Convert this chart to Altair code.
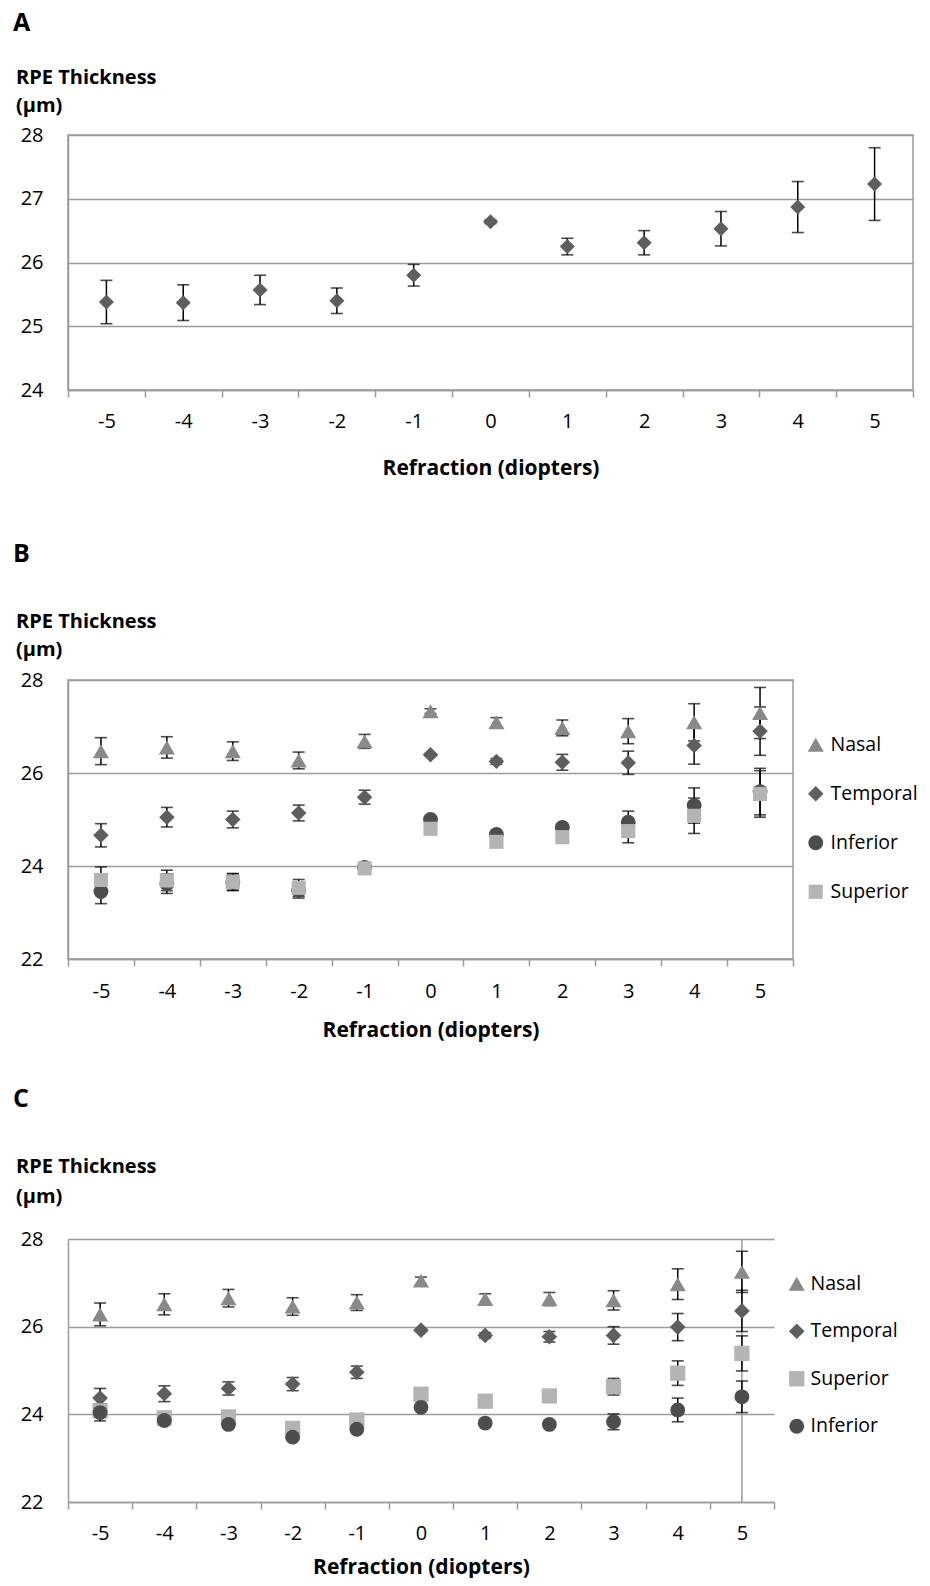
import altair as alt
import pandas as pd

FONT = "Open Sans"
GRID = "#9b9b9b"

X_LABELS = ["-5", "-4", "-3", "-2", "-1", "0", "1", "2", "3", "4", "5"]

# Panel A (all regions)
A_MEAN = [25.38, 25.37, 25.57, 25.40, 25.80, 26.64, 26.25, 26.31, 26.53, 26.87, 27.23]
A_ERR = [0.34, 0.28, 0.23, 0.20, 0.17, 0.03, 0.13, 0.19, 0.27, 0.40, 0.57]

# Panel B
B_NASAL = [26.47, 26.55, 26.47, 26.27, 26.68, 27.33, 27.09, 26.97, 26.90, 27.09, 27.29]
B_NASAL_ERR = [0.29, 0.23, 0.20, 0.18, 0.15, 0.05, 0.10, 0.17, 0.27, 0.40, 0.55]
B_TEMPORAL = [24.66, 25.05, 25.00, 25.14, 25.48, 26.39, 26.25, 26.23, 26.22, 26.59, 26.90]
B_TEMPORAL_ERR = [0.25, 0.21, 0.18, 0.17, 0.15, 0.03, 0.06, 0.17, 0.25, 0.40, 0.52]
B_INFERIOR = [23.45, 23.62, 23.65, 23.48, 23.97, 25.00, 24.68, 24.83, 24.94, 25.30, 25.60]
B_INFERIOR_ERR = [0.26, 0.21, 0.18, 0.17, 0.08, 0.04, 0.05, 0.08, 0.24, 0.38, 0.50]
B_SUPERIOR = [23.70, 23.69, 23.66, 23.53, 23.95, 24.80, 24.52, 24.62, 24.75, 25.08, 25.55]
B_SUPERIOR_ERR = [0.28, 0.22, 0.18, 0.18, 0.08, 0.04, 0.05, 0.06, 0.25, 0.38, 0.50]

# Panel C
C_NASAL = [26.28, 26.51, 26.65, 26.46, 26.55, 27.05, 26.63, 26.63, 26.60, 26.97, 27.25]
C_NASAL_ERR = [0.26, 0.24, 0.20, 0.20, 0.18, 0.08, 0.12, 0.15, 0.22, 0.35, 0.47]
C_TEMPORAL = [24.37, 24.47, 24.59, 24.69, 24.96, 25.92, 25.80, 25.77, 25.80, 25.99, 26.36]
C_TEMPORAL_ERR = [0.22, 0.18, 0.15, 0.15, 0.14, 0.03, 0.06, 0.12, 0.20, 0.31, 0.47]
C_SUPERIOR = [24.08, 23.92, 23.94, 23.68, 23.87, 24.46, 24.30, 24.42, 24.63, 24.94, 25.39]
C_SUPERIOR_ERR = [0.15, 0.10, 0.08, 0.06, 0.06, 0.04, 0.04, 0.04, 0.19, 0.28, 0.40]
C_INFERIOR = [24.04, 23.86, 23.77, 23.48, 23.66, 24.16, 23.80, 23.77, 23.83, 24.10, 24.40]
C_INFERIOR_ERR = [0.19, 0.10, 0.08, 0.05, 0.05, 0.04, 0.04, 0.08, 0.18, 0.27, 0.36]

COLORS = {"Nasal": "#898989", "Temporal": "#5e5e5e", "Inferior": "#4d4d4d", "Superior": "#b4b4b4"}
SHAPES = {"Nasal": "triangle-up", "Temporal": "diamond", "Inferior": "circle", "Superior": "square"}


def make_df(series):
    rows = []
    for k, (name, means, errs) in enumerate(series):
        for xi, m, e in zip(X_LABELS, means, errs):
            rows.append(dict(x=xi, series=name, k=k, mean=m,
                             lo=round(m - e, 3), hi=round(m + e, 3)))
    return pd.DataFrame(rows)


def text_layer(s, x, y, size, bold=True):
    return alt.Chart(pd.DataFrame({"t": [s]})).mark_text(
        align="left", baseline="alphabetic", font=FONT, fontSize=size,
        fontWeight="bold" if bold else "normal", color="black"
    ).encode(text="t:N", x=alt.value(x), y=alt.value(y))


def spacer(top, bottom):
    # invisible block that fixes the vertical extent of a panel
    return alt.Chart(pd.DataFrame({"t": [0]})).mark_rect(opacity=0).encode(
        x=alt.value(0), x2=alt.value(1), y=alt.value(top), y2=alt.value(bottom))


def panel(df, letter, w, h, ydom, yvals, lx, ly_letter, ly_rpe, ly_um,
          label_pad, title_pad, extent, order=None, sizes=None, legend_xy=None,
          row_pad=29, label_offset=7, frame=True, vline=False, single=None):
    xscale = alt.Scale(type="band", domain=X_LABELS, paddingInner=0, paddingOuter=0)
    xaxis = alt.Axis(title="Refraction (diopters)", labelAngle=0, tickBand="extent",
                     tickSize=7, tickColor=GRID, tickWidth=1.5,
                     domainColor=GRID, domainWidth=1.5, grid=False,
                     labelFont=FONT, labelFontSize=20, labelColor="black",
                     labelPadding=label_pad, titleFont=FONT, titleFontSize=21,
                     titleFontWeight="bold", titleColor="black", titlePadding=title_pad)
    yscale = alt.Scale(domain=ydom, nice=False, zero=False)
    yaxis = alt.Axis(title=None, values=yvals, ticks=False, domain=True,
                     domainColor=GRID, domainWidth=1.5, grid=True, gridColor=GRID,
                     gridWidth=1.5, labelFont=FONT, labelFontSize=20,
                     labelColor="black", labelPadding=25, labelFlush=False,
                     labelOverlap=False)
    X = alt.X("x:O", scale=xscale, axis=xaxis)
    base = alt.Chart(df)
    err = base.mark_rule(color="black", strokeWidth=1.5).encode(
        x=X, y=alt.Y("lo:Q", scale=yscale, axis=yaxis), y2="hi:Q")
    cap_lo = base.mark_tick(color="black", size=12, thickness=1.6).encode(
        x=X, y=alt.Y("lo:Q", scale=yscale, axis=yaxis))
    cap_hi = base.mark_tick(color="black", size=12, thickness=1.6).encode(
        x=X, y=alt.Y("hi:Q", scale=yscale, axis=yaxis))
    if single is not None:
        pts = base.mark_point(filled=True, opacity=1).encode(
            x=X, y=alt.Y("mean:Q", scale=yscale, axis=yaxis),
            color=alt.value(COLORS[single]), shape=alt.value(SHAPES[single]),
            size=alt.value(225))
    else:
        leg = alt.Legend(title=None, orient="none", legendX=legend_xy[0],
                         legendY=legend_xy[1], labelFont=FONT, labelFontSize=19.5,
                         labelColor="black", symbolSize=210, rowPadding=row_pad,
                         labelOffset=label_offset, padding=0, symbolStrokeWidth=0)
        pts = base.mark_point(filled=True, opacity=1).encode(
            x=X, y=alt.Y("mean:Q", scale=yscale, axis=yaxis),
            color=alt.Color("series:N", scale=alt.Scale(domain=order, range=[COLORS[s] for s in order]), legend=leg),
            shape=alt.Shape("series:N", scale=alt.Scale(domain=order, range=[SHAPES[s] for s in order]), legend=leg),
            size=alt.Size("series:N", scale=alt.Scale(domain=order, range=sizes), legend=None),
        )
    layers = [spacer(*extent), err, cap_lo, cap_hi, pts]
    if vline:
        layers.insert(1, alt.Chart(pd.DataFrame({"x": ["5"]})).mark_rule(
            color=GRID, strokeWidth=1.5).encode(x=X, y=alt.value(0), y2=alt.value(h)))
    layers += [text_layer(letter, lx, ly_letter, 25),
               text_layer("RPE Thickness", lx + 3, ly_rpe, 20),
               text_layer("(µm)", lx + 3, ly_um, 20)]
    return alt.layer(*layers).properties(
        width=w, height=h,
        view=alt.ViewBackground(stroke=GRID if frame else "transparent", strokeWidth=1.5))


dfA = make_df([("All", A_MEAN, A_ERR)])
dfB = make_df([("Nasal", B_NASAL, B_NASAL_ERR), ("Temporal", B_TEMPORAL, B_TEMPORAL_ERR),
               ("Inferior", B_INFERIOR, B_INFERIOR_ERR), ("Superior", B_SUPERIOR, B_SUPERIOR_ERR)])
dfC = make_df([("Nasal", C_NASAL, C_NASAL_ERR), ("Temporal", C_TEMPORAL, C_TEMPORAL_ERR),
               ("Superior", C_SUPERIOR, C_SUPERIOR_ERR), ("Inferior", C_INFERIOR, C_INFERIOR_ERR)])

pA = panel(dfA, "A", 845, 255, [24, 28], [24, 25, 26, 27, 28], -55, -104, -51.5, -23,
           14, 26, (-125.3, 400), single="Temporal")
pB = panel(dfB, "B", 725, 279, [22, 28], [22, 24, 26, 28], -55, -118, -52, -24.5,
           15, 18, (-143.2, 400), order=["Nasal", "Temporal", "Inferior", "Superior"],
           sizes=[260, 200, 250, 225], legend_xy=[738, 55], row_pad=28, label_offset=5)
pC = panel(dfC, "C", 706, 263, [22, 28], [22, 24, 26, 28], -55, -132, -66, -36,
           14, 13, (-156.3, 0), order=["Nasal", "Temporal", "Superior", "Inferior"],
           sizes=[260, 220, 225, 245], legend_xy=[719, 35], row_pad=26.5, label_offset=4,
           frame=False, vline=True)

chart = alt.concat(pA, pB, pC, columns=1, align="none", spacing=0, bounds="full").resolve_scale(
    x="independent", y="independent", color="independent", shape="independent", size="independent"
).resolve_legend(color="independent", shape="independent").properties(
    padding={"left": 4, "top": 0, "right": 0, "bottom": 0}, background="white"
)

chart.save("out.html", embed_options={"renderer": "svg", "actions": False})
